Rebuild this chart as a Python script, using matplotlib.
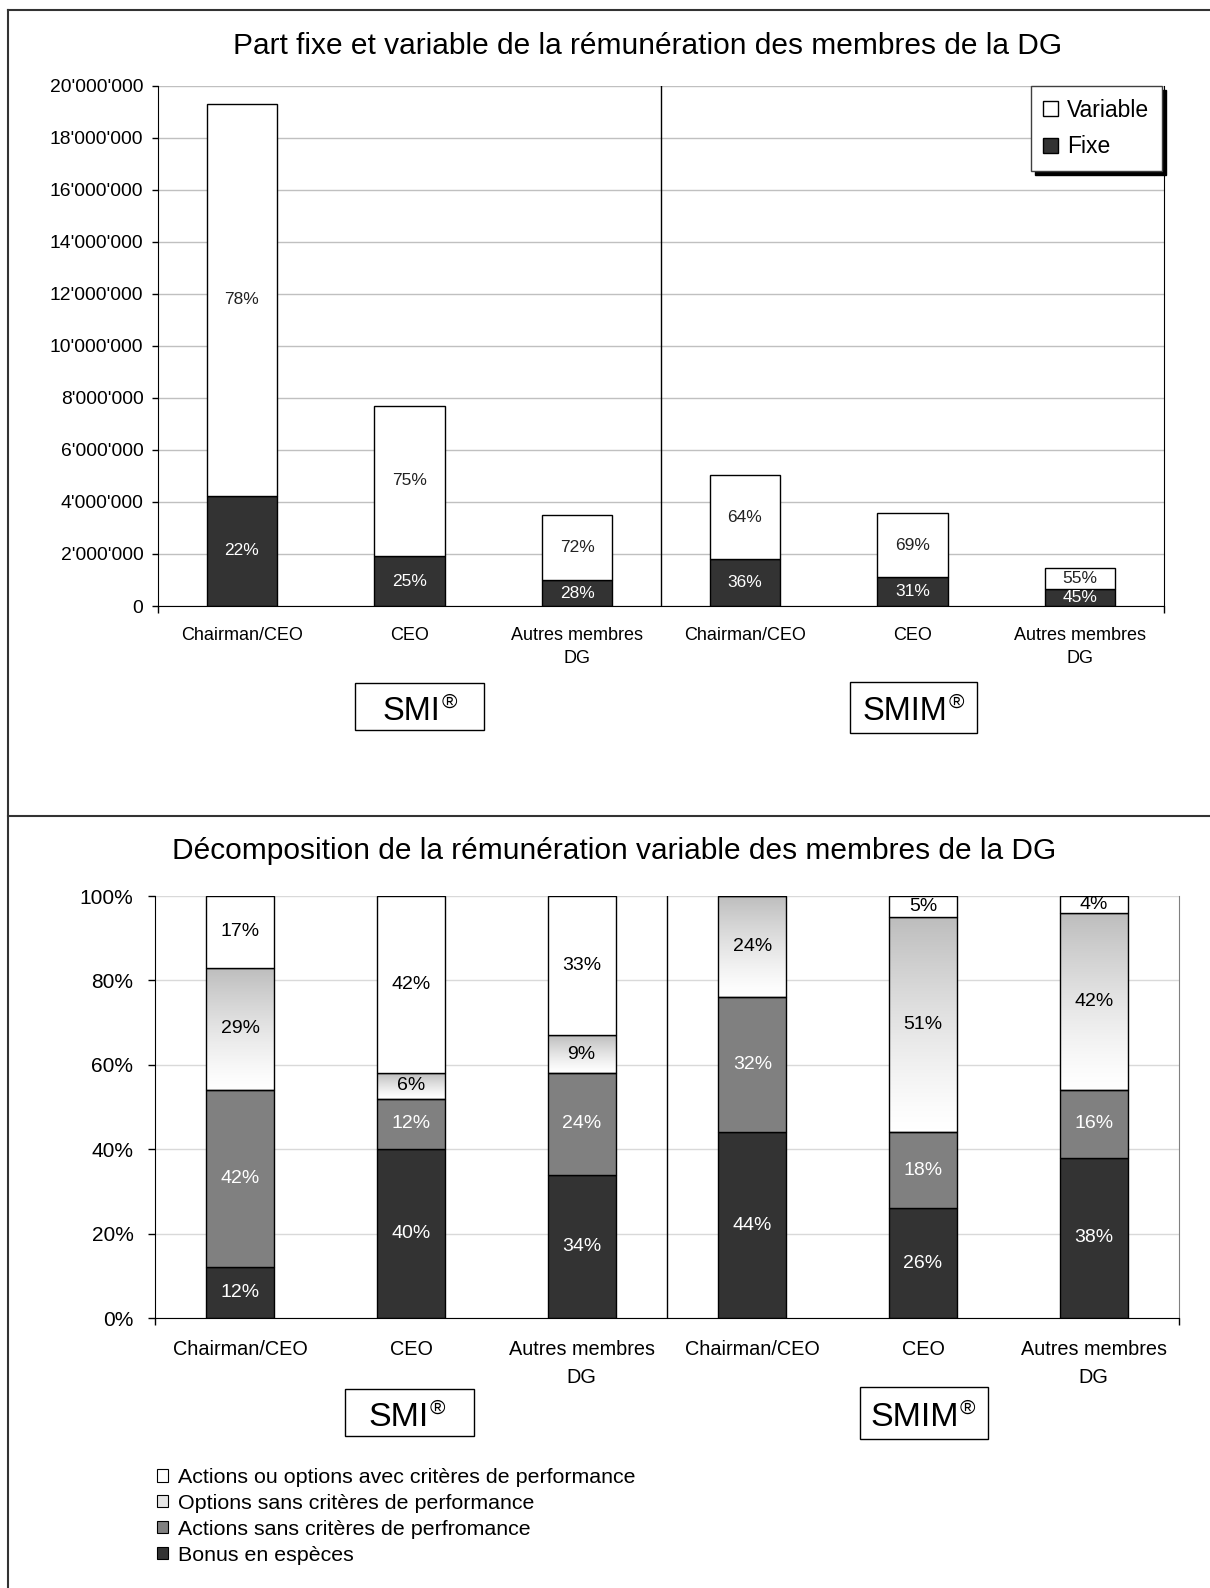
import numpy as np
import matplotlib.pyplot as plt
from matplotlib.colors import LinearSegmentedColormap
from matplotlib.patches import Patch, Rectangle
from matplotlib.lines import Line2D
from matplotlib.ticker import FuncFormatter

plt.rcParams['font.family'] = ['Liberation Sans', 'DejaVu Sans']

# catégories (SMI puis SMIM)
categories = ["Chairman/CEO", "CEO", "Autres membres\nDG"] * 2
groupes = ["SMI", "SMIM"]

# rémunération fixe / variable (CHF)
fixe = [4.25e6, 1.92e6, 0.99e6, 1.80e6, 1.11e6, 0.66e6]
variable = [15.07e6, 5.79e6, 2.52e6, 3.22e6, 2.46e6, 0.81e6]

# décomposition de la part variable (%)
bonus = [12, 40, 34, 44, 26, 38]
actions_sans = [42, 12, 24, 32, 18, 16]
options_sans = [29, 6, 9, 24, 51, 42]
actions_avec = [17, 42, 33, 0, 5, 4]

DARK = '#333333'
MID = '#808080'

W, H = 1210, 1588
fig = plt.figure(figsize=(W / 100, H / 100), dpi=100)


def fx(px):
    return px / W


def fy(py):
    return 1 - py / H


x = np.arange(len(categories))

# ---------------- graphique du haut ----------------
ax1 = fig.add_axes([fx(158), fy(606), fx(1164) - fx(158), fy(86) - fy(606)])
ax1.bar(x, fixe, width=0.42, color=DARK, edgecolor='black', lw=1, zorder=2)
ax1.bar(x, variable, bottom=fixe, width=0.42, color='white', edgecolor='black', lw=1, zorder=2)
for i in range(len(x)):
    tot = fixe[i] + variable[i]
    ax1.text(x[i], fixe[i] / 2, f"{round(100 * fixe[i] / tot)}%", ha='center', va='center',
             color='white', fontsize=12.5, zorder=3)
    ax1.text(x[i], fixe[i] + variable[i] / 2, f"{round(100 * variable[i] / tot)}%", ha='center',
             va='center', color='#222222', fontsize=12.5, zorder=3)

ax1.set_xlim(-0.5, 5.5)
ax1.set_ylim(0, 20e6)
ax1.set_yticks(np.arange(0, 20e6 + 1, 2e6))
ax1.yaxis.set_major_formatter(FuncFormatter(lambda v, p: f"{int(round(v)):,}".replace(',', "'")))
ax1.grid(axis='y', color='#c0c0c0', lw=1)
ax1.set_axisbelow(True)
ax1.spines['top'].set_visible(False)
for s in ['left', 'bottom', 'right']:
    ax1.spines[s].set_color('black')
ax1.plot([2.5, 2.5], [0, 20e6], color='black', lw=1, zorder=1)
ax1.set_xticks(x, categories)
ax1.set_xticks([-0.5, 5.5], minor=True)
ax1.tick_params(axis='x', which='major', length=0, pad=15, labelsize=13)
ax1.tick_params(axis='x', which='minor', length=5, width=1)
ax1.tick_params(axis='y', length=4, width=1, pad=6.5, labelsize=13.9)
for lbl in ax1.get_xticklabels():
    lbl.set_linespacing(1.5)

fig.legend(handles=[Patch(facecolor='white', edgecolor='black', label='Variable'),
                    Patch(facecolor=DARK, edgecolor='black', label='Fixe')],
           loc='upper right', bbox_to_anchor=(fx(1162), fy(86)), borderaxespad=0,
           fontsize=16.5, frameon=True, fancybox=False, edgecolor='#404040', framealpha=1,
           shadow={'color': 'black', 'alpha': 1, 'ox': 3, 'oy': -3},
           handlelength=0.65, handleheight=0.65, handletextpad=0.4, labelspacing=0.6,
           borderpad=0.55).get_frame().set_linewidth(1)

# ---------------- graphique du bas ----------------
ax2 = fig.add_axes([fx(155), fy(1318), fx(1179) - fx(155), fy(896) - fy(1318)])
bw = 0.40
b1 = np.array(bonus, dtype=float)
b2 = b1 + np.array(actions_sans)
b3 = b2 + np.array(options_sans)

ax2.bar(x, bonus, width=bw, color=DARK, edgecolor='black', lw=1, zorder=2)
ax2.bar(x, actions_sans, bottom=b1, width=bw, color=MID, edgecolor='black', lw=1, zorder=2)
opt_bars = ax2.bar(x, options_sans, bottom=b2, width=bw, facecolor='none', edgecolor='black',
                   lw=1, zorder=2)
ax2.bar(x, actions_avec, bottom=b3, width=bw, color='white', edgecolor='black', lw=1, zorder=2)

# dégradé gris -> blanc pour les options sans critères
grad_cmap = LinearSegmentedColormap.from_list('grad', ['#ffffff', '#bdbdbd'])
grad = np.linspace(1, 0, 256).reshape(-1, 1) ** 1.3
for rect in opt_bars:
    x0, y0 = rect.get_x(), rect.get_y()
    ax2.imshow(grad, extent=[x0, x0 + rect.get_width(), y0, y0 + rect.get_height()],
               cmap=grad_cmap, vmin=0, vmax=1, aspect='auto', origin='upper', zorder=1.9)

segments = [(bonus, np.zeros(6), 'white'), (actions_sans, b1, 'white'),
            (options_sans, b2, 'black'), (actions_avec, b3, 'black')]
for vals, bottoms, col in segments:
    for i in range(len(x)):
        if vals[i] > 0:
            ax2.text(x[i], bottoms[i] + vals[i] / 2, f"{vals[i]}%", ha='center', va='center',
                     color=col, fontsize=14, zorder=3)

ax2.set_xlim(-0.5, 5.5)
ax2.set_ylim(0, 100)
ax2.set_yticks(np.arange(0, 101, 20))
ax2.yaxis.set_major_formatter(FuncFormatter(lambda v, p: f"{int(v)}%"))
ax2.grid(axis='y', color='#d9d9d9', lw=1)
ax2.set_axisbelow(True)
ax2.spines['top'].set_visible(False)
ax2.spines['left'].set_color('black')
ax2.spines['bottom'].set_color('black')
ax2.spines['right'].set_color(MID)
ax2.plot([2.5, 2.5], [0, 100], color='black', lw=1, zorder=1)
ax2.set_xticks(x, categories)
ax2.set_xticks([-0.5, 5.5], minor=True)
ax2.tick_params(axis='x', which='major', length=0, pad=16, labelsize=14.3)
ax2.tick_params(axis='x', which='minor', length=5, width=1)
ax2.tick_params(axis='y', length=5, width=1, pad=10.5, labelsize=15)
for lbl in ax2.get_xticklabels():
    lbl.set_linespacing(1.6)

fig.legend(handles=[Patch(facecolor='white', edgecolor='black', lw=0.8,
                          label='Actions ou options avec critères de performance'),
                    Patch(facecolor='#e6e6e6', edgecolor='black', lw=0.8,
                          label='Options sans critères de performance'),
                    Patch(facecolor=MID, edgecolor='black', lw=0.8,
                          label='Actions sans critères de perfromance'),
                    Patch(facecolor=DARK, edgecolor='black', lw=0.8, label='Bonus en espèces')],
           loc='upper left', bbox_to_anchor=(fx(157), fy(1468)), borderaxespad=0, borderpad=0,
           frameon=False, fontsize=15.4, handlelength=0.5, handleheight=0.5,
           handletextpad=0.5, labelspacing=0.32)

# ---------------- titres ----------------
fig.text(fx(648), fy(46), "Part fixe et variable de la rémunération des membres de la DG",
         ha='center', va='center', fontsize=21.5)
fig.text(fx(614), fy(851), "Décomposition de la rémunération variable des membres de la DG",
         ha='center', va='center', fontsize=21.5)

# ---------------- étiquettes SMI / SMIM ----------------
renderer = fig.canvas.get_renderer()
boites = [("SMI", 355, 484, 683, 730, 411.5, 720, 23.5),
          ("SMIM", 850, 977, 682, 733, 905, 720, 23.5),
          ("SMI", 345, 474, 1389, 1436, 399, 1426, 24.5),
          ("SMIM", 860, 988, 1387, 1439, 914.5, 1426, 24.5)]
for nom, xa, xb, ya, yb, cx, base, fs in boites:
    fig.add_artist(Rectangle((fx(xa), fy(yb)), fx(xb) - fx(xa), fy(ya) - fy(yb),
                             transform=fig.transFigure, fill=False, ec='black', lw=1))
    t = fig.text(fx(cx), fy(base), nom, ha='center', va='baseline', fontsize=fs)
    w = t.get_window_extent(renderer).width
    fig.text(fx(cx + w / 2 + 1), fy(base - 12), '®', ha='left', va='baseline', fontsize=15)

# ---------------- cadre ----------------
frame = dict(transform=fig.transFigure, color='#333333', lw=1.5)
fig.add_artist(Line2D([fx(8), 1], [fy(10), fy(10)], **frame))
fig.add_artist(Line2D([fx(8), fx(8)], [fy(10), 0], **frame))
fig.add_artist(Line2D([fx(8), 1], [fy(815.5), fy(815.5)], **frame))

fig.savefig('out.png', dpi=100)
